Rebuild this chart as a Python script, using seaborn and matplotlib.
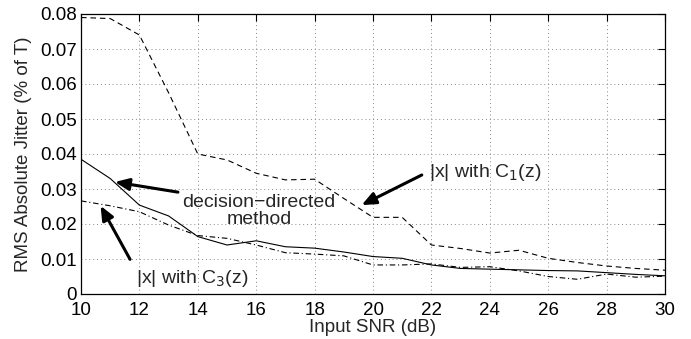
import matplotlib
matplotlib.use("Agg")
import matplotlib.pyplot as plt
import seaborn as sns
import pandas as pd

snr = [10, 11, 12, 13, 14, 15, 16, 17, 18, 19, 20, 21, 22, 23, 24, 25, 26, 27, 28, 29, 30]
c1 = [0.0790, 0.0787, 0.0740, 0.0575, 0.0400, 0.0383, 0.0345, 0.0326, 0.0328, 0.0273, 0.0219,
      0.0219, 0.0140, 0.0130, 0.0117, 0.0125, 0.0102, 0.0090, 0.0080, 0.0073, 0.0068]
dd = [0.0385, 0.0330, 0.0254, 0.0223, 0.0164, 0.0140, 0.0152, 0.0135, 0.0131, 0.0120, 0.0107,
      0.0102, 0.0083, 0.0073, 0.0071, 0.0069, 0.0067, 0.0066, 0.0061, 0.0056, 0.0052]
c3 = [0.0266, 0.0252, 0.0235, 0.0197, 0.0167, 0.0159, 0.0140, 0.0118, 0.0114, 0.0109, 0.0083,
      0.0083, 0.0086, 0.0076, 0.0078, 0.0066, 0.0050, 0.0042, 0.0057, 0.0048, 0.0051]

xticks = list(range(10, 31, 2))
yticks = [0, 0.01, 0.02, 0.03, 0.04, 0.05, 0.06, 0.07, 0.08]
ytick_labels = ["0", "0.01", "0.02", "0.03", "0.04", "0.05", "0.06", "0.07", "0.08"]

sns.set_theme(style="white")
plt.rcParams['font.family'] = ['Liberation Sans', 'DejaVu Sans']

fig = plt.figure(figsize=(6.91, 3.39), dpi=100)
ax = fig.add_axes([81/691, 1-294/339, (665-81)/691, (294-14)/339])

df1 = pd.DataFrame({"snr": snr, "v": c1})
df2 = pd.DataFrame({"snr": snr, "v": dd})
df3 = pd.DataFrame({"snr": snr, "v": c3})
sns.lineplot(data=df1, x="snr", y="v", ax=ax, color="black", lw=0.8)
ax.lines[-1].set_dashes((5, 3.5))
sns.lineplot(data=df2, x="snr", y="v", ax=ax, color="black", lw=0.8)
sns.lineplot(data=df3, x="snr", y="v", ax=ax, color="black", lw=0.8)
ax.lines[-1].set_dashes((5, 2.5, 1, 2.5))

ax.set_xlim(10, 30)
ax.set_ylim(0, 0.08)
ax.set_xticks(xticks)
ax.set_xticklabels([str(t) for t in xticks])
ax.set_yticks(yticks)
ax.set_yticklabels(ytick_labels)
ax.tick_params(direction="in", top=True, right=True, length=5, width=0.8,
               labelsize=13.5, colors="black")
ax.tick_params(axis="y", pad=3)
ax.tick_params(axis="x", pad=6)
ax.grid(True, color="#888888", linestyle=(0, (1, 3)), linewidth=0.7)
for s in ax.spines.values():
    s.set_color("black")
    s.set_linewidth(0.9)

ax.set_xlabel("Input SNR (dB)", fontsize=13.5, labelpad=0)
ax.set_ylabel("RMS Absolute Jitter (% of T)", fontsize=13.5, labelpad=6)

arrow = dict(arrowstyle="-|>,head_length=0.7,head_width=0.3", color="black", lw=2.2,
             shrinkA=0, shrinkB=0)
ax.annotate("", xy=(11.16, 0.0320), xytext=(13.32, 0.0291), arrowprops=arrow)
ax.text(16.1, 0.0237, "decision\u2212directed\nmethod", ha="center", va="center",
        fontsize=14, linespacing=1.05)
ax.annotate("", xy=(10.67, 0.0252), xytext=(11.68, 0.0099), arrowprops=arrow)
ax.text(13.8, 0.0045, "|x| with C$_3$(z)", ha="center", va="center", fontsize=14)
ax.annotate("", xy=(19.61, 0.0254), xytext=(21.67, 0.0340), arrowprops=arrow)
ax.text(23.85, 0.0347, "|x| with C$_1$(z)", ha="center", va="center", fontsize=14)

fig.savefig("out.png", dpi=100)
